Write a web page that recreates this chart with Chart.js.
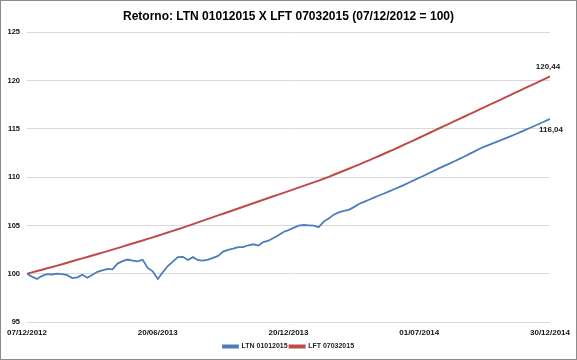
<!DOCTYPE html>
<html><head><meta charset="utf-8">
<script src="https://cdn.jsdelivr.net/npm/chart.js@4.4.1/dist/chart.umd.min.js"></script>
<style>
html,body{margin:0;padding:0;background:#fff}
#wrap{position:relative;width:577px;height:360px}
#frame{position:absolute;left:0;top:0;width:577px;height:360px;box-sizing:border-box;border:1px solid #8c8c8c;pointer-events:none}
</style>
</head><body>
<div id="wrap"><canvas id="c" width="577" height="360"></canvas><div id="frame"></div></div>
<script>
const titleText = 'Retorno: LTN 01012015 X LFT 07032015 (07/12/2012 = 100)';
const seriesNames = ['LTN 01012015', 'LFT 07032015'];
const dateLabels = ['07/12/2012', '20/06/2013', '20/12/2013', '01/07/2014', '30/12/2014'];
const labelEvery = 26;
const yMin = 95, yMax = 125, yStep = 5;

const ltn = [
 100.00, 99.70, 99.45, 99.78, 99.95, 99.92, 100.02, 99.95, 99.85, 99.55,
 99.62, 99.90, 99.58, 99.90, 100.20, 100.35, 100.50, 100.45, 101.05, 101.30,
 101.47, 101.35, 101.28, 101.45, 100.60, 100.25, 99.45, 100.15, 100.80, 101.25,
 101.72, 101.75, 101.42, 101.72, 101.40, 101.35, 101.47, 101.65, 101.85, 102.30,
 102.48, 102.60, 102.76, 102.76, 102.95, 103.05, 102.92, 103.28, 103.42, 103.70,
 103.98, 104.32, 104.52, 104.75, 104.98, 105.05, 105.01, 104.98, 104.82, 105.40,
 105.72, 106.12, 106.35, 106.50, 106.62, 106.90, 107.22, 107.45, 107.66, 107.88,
 108.10, 108.31, 108.53, 108.75, 108.97, 109.20, 109.45, 109.70, 109.94, 110.18,
 110.43, 110.68, 110.94, 111.17, 111.40, 111.65, 111.90, 112.15, 112.42, 112.68,
 112.95, 113.16, 113.37, 113.58, 113.79, 114.00, 114.21, 114.42, 114.64, 114.87,
 115.10, 115.33, 115.56, 115.80, 116.04
];
const lft = [
 100.00, 100.14, 100.28, 100.42, 100.56, 100.70, 100.84, 100.99, 101.14, 101.29,
 101.44, 101.59, 101.74, 101.89, 102.04, 102.19, 102.34, 102.50, 102.65, 102.81,
 102.97, 103.13, 103.29, 103.45, 103.61, 103.77, 103.93, 104.10, 104.27, 104.44,
 104.61, 104.78, 104.96, 105.14, 105.32, 105.50, 105.68, 105.86, 106.04, 106.22,
 106.40, 106.58, 106.76, 106.94, 107.12, 107.30, 107.48, 107.66, 107.84, 108.02,
 108.20, 108.38, 108.56, 108.74, 108.92, 109.10, 109.28, 109.46, 109.64, 109.84,
 110.04, 110.25, 110.46, 110.67, 110.88, 111.09, 111.31, 111.53, 111.75, 111.97,
 112.20, 112.43, 112.66, 112.89, 113.13, 113.37, 113.61, 113.85, 114.09, 114.33,
 114.58, 114.82, 115.07, 115.31, 115.55, 115.80, 116.04, 116.29, 116.53, 116.77,
 117.02, 117.26, 117.51, 117.75, 117.99, 118.24, 118.48, 118.73, 118.97, 119.22,
 119.46, 119.70, 119.95, 120.19, 120.44
];

const colors = ['#4a7ebb', '#be4b48'];
const FONT = "'Liberation Sans', Arial, sans-serif";
const toPts = arr => arr.map((v, i) => ({x: i, y: v}));

const endLabels = {
  id: 'endLabels',
  afterDatasetsDraw(chart) {
    const ctx = chart.ctx;
    ctx.save();
    ctx.font = 'bold 8px ' + FONT;
    ctx.fillStyle = '#1a1a1a';
    ctx.textAlign = 'center';
    ctx.textBaseline = 'middle';
    chart.data.datasets.forEach((ds, di) => {
      const meta = chart.getDatasetMeta(di);
      const last = meta.data[meta.data.length - 1];
      const v = ds.data[ds.data.length - 1].y;
      const txt = v.toFixed(2).replace('.', ',');
      if (di === 1) ctx.fillText(txt, last.x - 2, last.y - 10);
      else ctx.fillText(txt, last.x + 1, last.y + 11);
    });
    ctx.restore();
  }
};

new Chart(document.getElementById('c'), {
  type: 'line',
  data: {
    datasets: [
      {label: seriesNames[0], data: toPts(ltn), borderColor: colors[0], backgroundColor: colors[0], borderWidth: 1.8, pointRadius: 0, tension: 0},
      {label: seriesNames[1], data: toPts(lft), borderColor: colors[1], backgroundColor: colors[1], borderWidth: 2, pointRadius: 0, tension: 0}
    ]
  },
  options: {
    responsive: false,
    animation: false,
    events: [],
    layout: {padding: {left: 0, right: 0, top: 0, bottom: 0}},
    plugins: {
      title: {display: true, text: titleText, color: '#000', font: {family: FONT, size: 12, weight: 'bold'}, padding: {top: 9, bottom: 9}},
      legend: {position: 'bottom', labels: {boxWidth: 15, boxHeight: 2, padding: 2, color: '#222', font: {family: FONT, size: 7, weight: 'bold'}}},
      tooltip: {enabled: false}
    },
    scales: {
      x: {
        type: 'linear', min: 0, max: ltn.length - 1,
        grid: {display: false, drawTicks: false},
        border: {display: false},
        ticks: {stepSize: labelEvery, autoSkip: false, maxRotation: 0, padding: 6, color: '#111',
          font: {family: FONT, size: 8, weight: 'bold'},
          callback: v => dateLabels[v / labelEvery] ?? ''},
        afterFit: s => { s.height = 19; }
      },
      y: {
        min: yMin, max: yMax,
        grid: {color: '#d9d9d9', lineWidth: 1, drawTicks: false},
        border: {display: false},
        ticks: {stepSize: yStep, padding: 7, color: '#111', font: {family: FONT, size: 7.5, weight: 'bold'}},
        afterFit: s => { s.width = 27; }
      },
      yRight: {
        position: 'right', min: yMin, max: yMax,
        grid: {display: false, drawTicks: false},
        border: {display: false},
        ticks: {display: false},
        afterFit: s => { s.width = 27; }
      }
    }
  },
  plugins: [endLabels]
});
</script>
</body></html>
